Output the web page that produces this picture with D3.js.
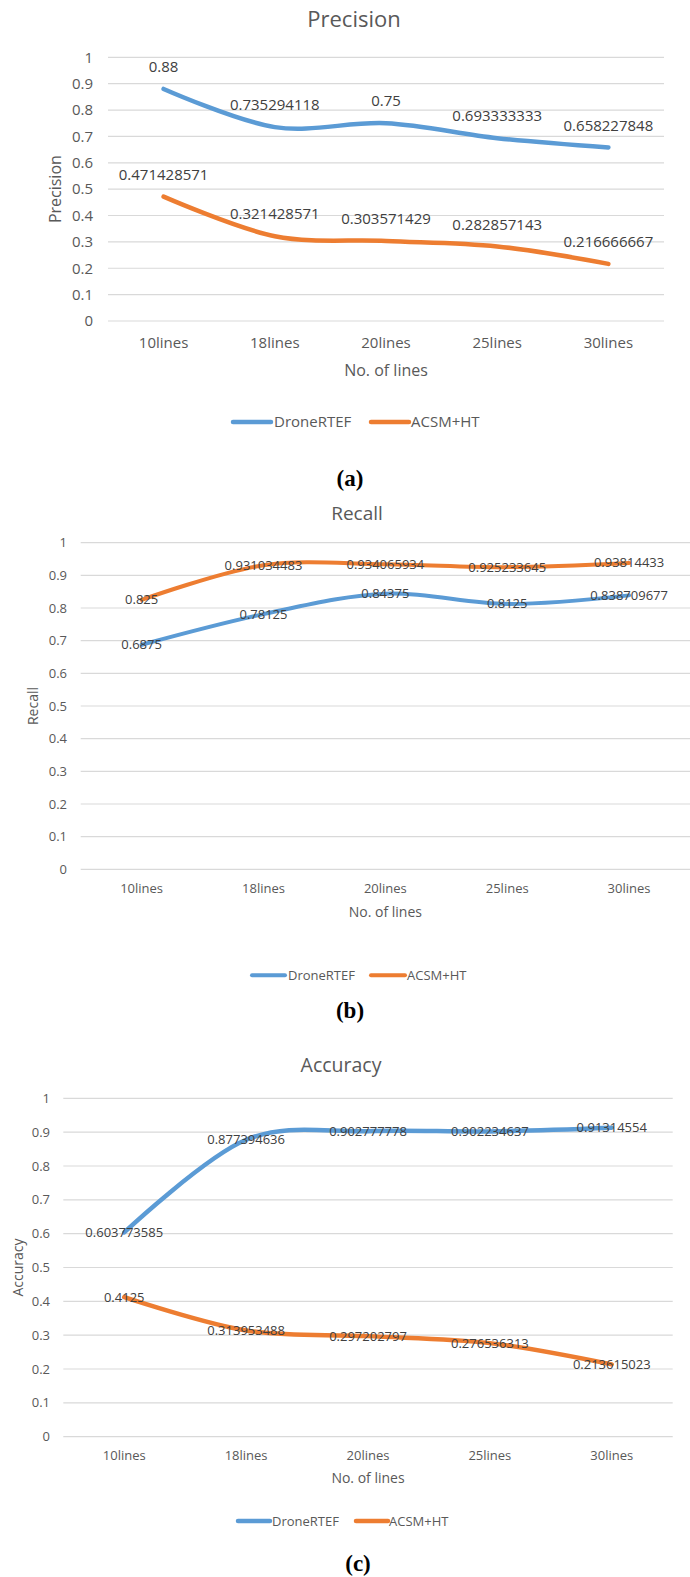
<!DOCTYPE html>
<html>
<head>
<meta charset="utf-8">
<script src="https://cdn.jsdelivr.net/npm/d3@7"></script>
<style>
  html, body { margin: 0; padding: 0; background: #fff; }
  svg { display: block; }
  text { font-family: "Open Sans", "Noto Sans", sans-serif; }
</style>
</head>
<body>
<svg id="chart" width="690" height="1577"></svg>
<script>
// Categories and series values
const categories = ["10lines", "18lines", "20lines", "25lines", "30lines"];
const seriesNames = ["DroneRTEF", "ACSM+HT"];

const precisionDrone = [0.88, 0.735294118, 0.75, 0.693333333, 0.658227848];
const precisionAcsm  = [0.471428571, 0.321428571, 0.303571429, 0.282857143, 0.216666667];

const recallDrone = [0.6875, 0.78125, 0.84375, 0.8125, 0.838709677];
const recallAcsm  = [0.825, 0.931034483, 0.934065934, 0.925233645, 0.93814433];

const accuracyDrone = [0.603773585, 0.877394636, 0.902777778, 0.902234637, 0.91314554];
const accuracyAcsm  = [0.4125, 0.313953488, 0.297202797, 0.276536313, 0.213615023];

const yTicks = [0, 0.1, 0.2, 0.3, 0.4, 0.5, 0.6, 0.7, 0.8, 0.9, 1];
const xTitle = "No. of lines";

const colors = ["#5B9BD5", "#ED7D31"];

// Layout of the three panels
const panels = [
  {
    title: "Precision", yTitle: "Precision", caption: "(a)",
    series: [precisionDrone, precisionAcsm],
    left: 108, right: 664, top: 57.3, bottom: 321,
    titleX: 354, titleY: 19, titleSize: 22,
    tickX: 93, tickSize: 15,
    yTitleX: 55, yTitleSize: 16,
    xLabelY: 343, xLabelSize: 15,
    xTitleY: 370, xTitleSize: 16,
    labelSize: 15, labelMode: "above",
    legendY: 422, legendSize: 15, legendItems: [[233, 271, 274], [371, 409, 411]],
    captionX: 350, captionY: 478,
    lineWidth: 4.5
  },
  {
    title: "Recall", yTitle: "Recall", caption: "(b)",
    series: [recallDrone, recallAcsm],
    left: 80.7, right: 690, top: 542.7, bottom: 869.3,
    titleX: 357, titleY: 513, titleSize: 19,
    tickX: 67, tickSize: 13,
    yTitleX: 33, yTitleSize: 14,
    xLabelY: 888.3, xLabelSize: 13,
    xTitleY: 912, xTitleSize: 14,
    labelSize: 13, labelMode: "center",
    legendY: 975.3, legendSize: 13, legendItems: [[252, 285, 288], [371, 405, 407]],
    captionX: 350, captionY: 1010,
    lineWidth: 4
  },
  {
    title: "Accuracy", yTitle: "Accuracy", caption: "(c)",
    series: [accuracyDrone, accuracyAcsm],
    left: 63.3, right: 672.7, top: 1098.3, bottom: 1436.7,
    titleX: 341, titleY: 1065, titleSize: 19.5,
    tickX: 50, tickSize: 13,
    yTitleX: 18, yTitleSize: 14,
    xLabelY: 1455, xLabelSize: 13,
    xTitleY: 1477.7, xTitleSize: 14,
    labelSize: 13, labelMode: "center",
    legendY: 1521, legendSize: 13, legendItems: [[238, 270, 272], [356, 388, 389]],
    captionX: 358, captionY: 1563,
    lineWidth: 4.5
  }
];

const svg = d3.select("#chart");
svg.append("rect").attr("width", 690).attr("height", 1577).attr("fill", "#fff");

panels.forEach(p => {
  const g = svg.append("g");

  const x = d3.scaleBand().domain(categories).range([p.left, p.right]).padding(0);
  const y = d3.scaleLinear().domain([0, 1]).range([p.bottom, p.top]);
  const cx = c => x(c) + x.bandwidth() / 2;

  // Horizontal gridlines
  g.append("g").selectAll("line").data(yTicks).join("line")
    .attr("x1", p.left).attr("x2", p.right)
    .attr("y1", d => y(d)).attr("y2", d => y(d))
    .attr("stroke", "#D9D9D9").attr("stroke-width", 1.2);

  // Y tick labels
  g.append("g").selectAll("text").data(yTicks).join("text")
    .attr("x", p.tickX).attr("y", d => y(d)).attr("dy", "0.35em")
    .attr("text-anchor", "end")
    .attr("font-size", p.tickSize).attr("fill", "#595959")
    .text(d => d3.format("")(+d.toFixed(1)));

  // X category labels
  g.append("g").selectAll("text").data(categories).join("text")
    .attr("x", d => cx(d)).attr("y", p.xLabelY).attr("dy", "0.35em")
    .attr("text-anchor", "middle")
    .attr("font-size", p.xLabelSize).attr("fill", "#595959")
    .text(d => d);

  // Titles
  g.append("text").attr("x", p.titleX).attr("y", p.titleY).attr("dy", "0.35em")
    .attr("text-anchor", "middle").attr("font-size", p.titleSize).attr("fill", "#595959")
    .text(p.title);
  g.append("text").attr("x", (p.left + p.right) / 2).attr("y", p.xTitleY).attr("dy", "0.35em")
    .attr("text-anchor", "middle").attr("font-size", p.xTitleSize).attr("fill", "#595959")
    .text(xTitle);
  g.append("text")
    .attr("transform", `translate(${p.yTitleX},${(p.top + p.bottom) / 2}) rotate(-90)`)
    .attr("dy", "0.35em")
    .attr("text-anchor", "middle").attr("font-size", p.yTitleSize).attr("fill", "#595959")
    .text(p.yTitle);

  // Smoothed series lines
  const line = d3.line()
    .x((d, i) => cx(categories[i]))
    .y(d => y(d))
    .curve(d3.curveCatmullRom.alpha(0));

  p.series.forEach((vals, si) => {
    g.append("path").datum(vals)
      .attr("d", line)
      .attr("fill", "none")
      .attr("stroke", colors[si])
      .attr("stroke-width", p.lineWidth)
      .attr("stroke-linecap", "round")
      .attr("stroke-linejoin", "round");
  });

  // Data labels
  p.series.forEach(vals => {
    g.append("g").selectAll("text").data(vals).join("text")
      .attr("x", (d, i) => cx(categories[i]))
      .attr("y", d => p.labelMode === "above" ? y(d) - 22 : y(d))
      .attr("dy", "0.35em")
      .attr("text-anchor", "middle")
      .attr("font-size", p.labelSize).attr("fill", "#404040")
      .text(d => String(d));
  });

  // Legend
  seriesNames.forEach((name, si) => {
    const [x1, x2, tx] = p.legendItems[si];
    g.append("line")
      .attr("x1", x1).attr("x2", x2)
      .attr("y1", p.legendY).attr("y2", p.legendY)
      .attr("stroke", colors[si]).attr("stroke-width", p.lineWidth)
      .attr("stroke-linecap", "round");
    g.append("text").attr("x", tx).attr("y", p.legendY).attr("dy", "0.35em")
      .attr("font-size", p.legendSize).attr("fill", "#595959")
      .text(name);
  });

  // Panel caption
  g.append("text").attr("x", p.captionX).attr("y", p.captionY).attr("dy", "0.35em")
    .attr("text-anchor", "middle")
    .style("font-family", "'Liberation Serif', 'Times New Roman', serif")
    .attr("font-weight", "bold").attr("font-size", 23).attr("fill", "#000")
    .text(p.caption);
});
</script>
</body>
</html>
